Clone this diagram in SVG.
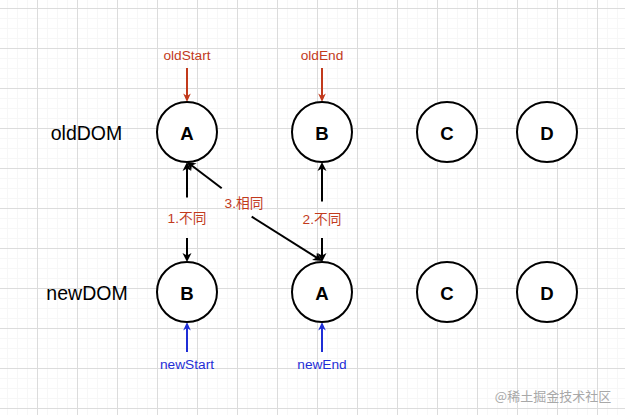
<svg xmlns="http://www.w3.org/2000/svg" width="625" height="415" viewBox="0 0 625 415">
<style>
.node circle{fill:#fff;stroke:#000;stroke-width:2}
.node text{font-family:"Liberation Sans",Arial,sans-serif;font-weight:bold;font-size:18.6px;text-anchor:middle;fill:#000}
.row{font-family:"Liberation Sans",Arial,sans-serif;font-size:19.5px;text-anchor:middle;fill:#000}
.lbl{font-family:"Liberation Sans","Noto Sans CJK SC",sans-serif;font-size:13.7px;text-anchor:middle}
.red{fill:#c23a1c}
.blue{fill:#1f2ed6}
.blk{stroke:#000;stroke-width:2;fill:none;marker-end:url(#ab)}
.rl{stroke:#c23a1c;stroke-width:2;fill:none;marker-end:url(#ar)}
.bl{stroke:#1f2ed6;stroke-width:2;fill:none;marker-end:url(#abl)}
</style>
<defs>
<pattern id="grid" x="37" y="8" width="40" height="40" patternUnits="userSpaceOnUse">
<rect x="10" y="0" width="1" height="40" fill="#f7f7f7"/>
<rect x="20" y="0" width="1" height="40" fill="#f7f7f7"/>
<rect x="30" y="0" width="1" height="40" fill="#f7f7f7"/>
<rect x="0" y="10" width="40" height="1" fill="#f7f7f7"/>
<rect x="0" y="20" width="40" height="1" fill="#f7f7f7"/>
<rect x="0" y="30" width="40" height="1" fill="#f7f7f7"/>
<rect x="0" y="0" width="1" height="40" fill="#dcdcdc"/>
<rect x="0" y="0" width="40" height="1" fill="#dcdcdc"/>
</pattern>
<marker id="ab" viewBox="-9 -5 10 10" refX="-3" refY="0" markerWidth="10" markerHeight="10" markerUnits="userSpaceOnUse" orient="auto">
<path d="M0,0 L-9,-4.5 L-6.5,0 L-9,4.5 Z" fill="#000"/>
</marker>
<marker id="ar" viewBox="-9 -5 10 10" refX="-3" refY="0" markerWidth="10" markerHeight="10" markerUnits="userSpaceOnUse" orient="auto">
<path d="M0,0 L-8.5,-3.8 L-6,0 L-8.5,3.8 Z" fill="#c23a1c"/>
</marker>
<marker id="abl" viewBox="-9 -5 10 10" refX="-3" refY="0" markerWidth="10" markerHeight="10" markerUnits="userSpaceOnUse" orient="auto">
<path d="M0,0 L-8.5,-3.8 L-6,0 L-8.5,3.8 Z" fill="#1f2ed6"/>
</marker>
</defs>
<rect width="625" height="415" fill="#fff"/>
<rect width="625" height="415" fill="url(#grid)"/>

<text class="row" x="86.5" y="140">oldDOM</text>
<text class="row" x="87" y="300">newDOM</text>

<g id="connectors">
<g id="ptr-oldStart"><line class="rl" x1="187" y1="68" x2="187" y2="99"/><text class="lbl red" x="187" y="60">oldStart</text></g>
<g id="ptr-oldEnd"><line class="rl" x1="322" y1="68" x2="322" y2="99"/><text class="lbl red" x="322" y="60">oldEnd</text></g>
<g id="ptr-newStart"><line class="bl" x1="187" y1="352" x2="187" y2="325"/><text class="lbl blue" x="187" y="368.5">newStart</text></g>
<g id="ptr-newEnd"><line class="bl" x1="322" y1="352" x2="322" y2="325"/><text class="lbl blue" x="322" y="368.5">newEnd</text></g>
<g id="edge1">
<line class="blk" x1="187" y1="197.5" x2="187" y2="165"/>
<line class="blk" x1="187" y1="238" x2="187" y2="259"/>
<text class="lbl red" x="187" y="223">1.不同</text>
</g>
<g id="edge2">
<line class="blk" x1="322" y1="201.5" x2="322" y2="165"/>
<line class="blk" x1="322" y1="238" x2="322" y2="259"/>
<text class="lbl red" x="322" y="223.5">2.不同</text>
</g>
<g id="edge3">
<line class="blk" x1="221.7" y1="188.3" x2="189.1" y2="163.5"/>
<line class="blk" x1="251.7" y1="216.7" x2="319.5" y2="259.4"/>
<text class="lbl red" x="244" y="208.3">3.相同</text>
</g>
</g>

<g id="old-A" class="node"><circle cx="187" cy="132" r="30"/><text x="187" y="140">A</text></g>
<g id="old-B" class="node"><circle cx="322" cy="132" r="30"/><text x="322" y="140">B</text></g>
<g id="old-C" class="node"><circle cx="447" cy="132" r="30"/><text x="447" y="140">C</text></g>
<g id="old-D" class="node"><circle cx="547" cy="132" r="30"/><text x="547" y="140">D</text></g>
<g id="new-B" class="node"><circle cx="187" cy="292" r="30"/><text x="187" y="300">B</text></g>
<g id="new-A" class="node"><circle cx="322" cy="292" r="30"/><text x="322" y="300">A</text></g>
<g id="new-C" class="node"><circle cx="447" cy="292" r="30"/><text x="447" y="300">C</text></g>
<g id="new-D" class="node"><circle cx="547" cy="292" r="30"/><text x="547" y="300">D</text></g>

<text x="553" y="401" font-family="'Noto Sans CJK SC',sans-serif" font-size="13" text-anchor="middle" fill="#a8a8a8">@稀土掘金技术社区</text>
</svg>
